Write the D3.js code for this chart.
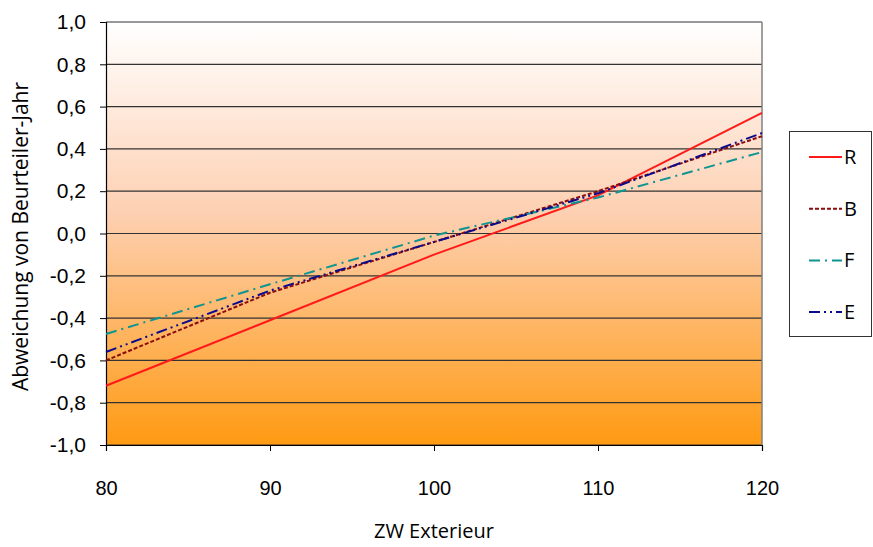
<!DOCTYPE html>
<html>
<head>
<meta charset="utf-8">
<script src="https://cdn.jsdelivr.net/npm/d3@7"></script>
<style>
  html, body { margin: 0; padding: 0; background: #ffffff; }
  svg { display: block; font-family: "Comic Sans MS", "Open Sans", sans-serif; }
</style>
</head>
<body>
<svg id="chart" width="873" height="547"></svg>
<script>
// ZW Exterieur steps and the deviation per assessor group
const xValues = [80, 90, 100, 110, 120];
const seriesR = [-0.72, -0.41, -0.10, 0.18, 0.57];
const seriesB = [-0.60, -0.28, -0.04, 0.20, 0.46];
const seriesF = [-0.475, -0.24, -0.01, 0.17, 0.385];
const seriesE = [-0.56, -0.27, -0.04, 0.19, 0.475];
const seriesNames = ["R", "B", "F", "E"];
const xTicks = [80, 90, 100, 110, 120];
const yTicks = [-1.0, -0.8, -0.6, -0.4, -0.2, 0.0, 0.2, 0.4, 0.6, 0.8, 1.0];

const styles = {
  R: { color: "#ff1a1a", dash: null },
  B: { color: "#8b0d0d", dash: "4,2" },
  F: { color: "#0f9490", dash: "11,5,2,5" },
  E: { color: "#0a0a8c", dash: "11,4,2,4,2,4" }
};
const seriesData = { R: seriesR, B: seriesB, F: seriesF, E: seriesE };

const svg = d3.select("#chart");
const plot = { left: 106, right: 762, top: 22, bottom: 445 };

const x = d3.scaleLinear().domain([80, 120]).range([plot.left, plot.right]);
const y = d3.scaleLinear().domain([-1, 1]).range([plot.bottom, plot.top]);
const fmt = v => d3.format(".1f")(v).replace(".", ",").replace("−", "-");

// background gradient of the plot area
const defs = svg.append("defs");
const grad = defs.append("linearGradient").attr("id", "bg")
  .attr("x1", 0).attr("y1", 0).attr("x2", 0).attr("y2", 1);
grad.append("stop").attr("offset", "0%").attr("stop-color", "#ffffff");
grad.append("stop").attr("offset", "45%").attr("stop-color", "#fdd0b2");
grad.append("stop").attr("offset", "100%").attr("stop-color", "#ff9a12");

svg.append("rect")
  .attr("x", plot.left).attr("y", plot.top)
  .attr("width", plot.right - plot.left).attr("height", plot.bottom - plot.top)
  .attr("fill", "url(#bg)");

// horizontal gridlines
svg.append("g").selectAll("line")
  .data(yTicks)
  .join("line")
  .attr("x1", plot.left).attr("x2", plot.right)
  .attr("y1", d => y(d)).attr("y2", d => y(d))
  .attr("stroke", "#333333").attr("stroke-width", 1.2);

// right border
svg.append("line")
  .attr("x1", plot.right).attr("x2", plot.right)
  .attr("y1", plot.top).attr("y2", plot.bottom)
  .attr("stroke", "#808080").attr("stroke-width", 1.5);

// axes
const yAxis = d3.axisLeft(y).tickValues(yTicks).tickFormat(fmt).tickSize(6).tickPadding(14);
const gy = svg.append("g").attr("transform", `translate(${plot.left},0)`).call(yAxis);
gy.select(".domain").attr("stroke", "#000").attr("stroke-width", 1.2);
gy.selectAll(".tick line").attr("stroke", "#000");
gy.selectAll("text").attr("font-size", 21).attr("fill", "#000");

const xAxis = d3.axisBottom(x).tickValues(xTicks).tickFormat(d3.format("d")).tickSize(6).tickPadding(30);
const gx = svg.append("g").attr("transform", `translate(0,${plot.bottom})`).call(xAxis);
gx.select(".domain").attr("stroke", "#000").attr("stroke-width", 1.2);
gx.selectAll(".tick line").attr("stroke", "#000");
gx.selectAll("text").attr("font-size", 20).attr("fill", "#000");

// series lines
const line = d3.line().x((d, i) => x(xValues[i])).y(d => y(d));
svg.append("g").selectAll("path")
  .data(seriesNames)
  .join("path")
  .attr("d", n => line(seriesData[n]))
  .attr("fill", "none")
  .attr("stroke", n => styles[n].color)
  .attr("stroke-width", 2)
  .attr("stroke-dasharray", n => styles[n].dash);

// axis titles
svg.append("text")
  .attr("x", (plot.left + plot.right) / 2).attr("y", 538)
  .attr("text-anchor", "middle").attr("font-size", 20).attr("fill", "#000")
  .text("ZW Exterieur");

svg.append("text")
  .attr("transform", `translate(28,${(plot.top + plot.bottom) / 2 + 3}) rotate(-90)`)
  .attr("text-anchor", "middle").attr("font-size", 21).attr("fill", "#000")
  .text("Abweichung von Beurteiler-Jahr");

// legend
const legend = svg.append("g");
legend.append("rect")
  .attr("x", 789.5).attr("y", 131.5).attr("width", 82).attr("height", 205)
  .attr("fill", "#ffffff").attr("stroke", "#333333").attr("stroke-width", 1);
const item = legend.selectAll("g.item")
  .data(seriesNames)
  .join("g").attr("class", "item")
  .attr("transform", (d, i) => `translate(0,${157 + i * 51.7})`);
item.append("line")
  .attr("x1", 809).attr("x2", 842).attr("y1", 0).attr("y2", 0)
  .attr("stroke", n => styles[n].color)
  .attr("stroke-width", 2)
  .attr("stroke-dasharray", n => styles[n].dash);
item.append("text")
  .attr("x", 844).attr("y", 0).attr("dy", "0.35em")
  .attr("font-size", 20).attr("fill", "#000")
  .text(n => n);
</script>
</body>
</html>
